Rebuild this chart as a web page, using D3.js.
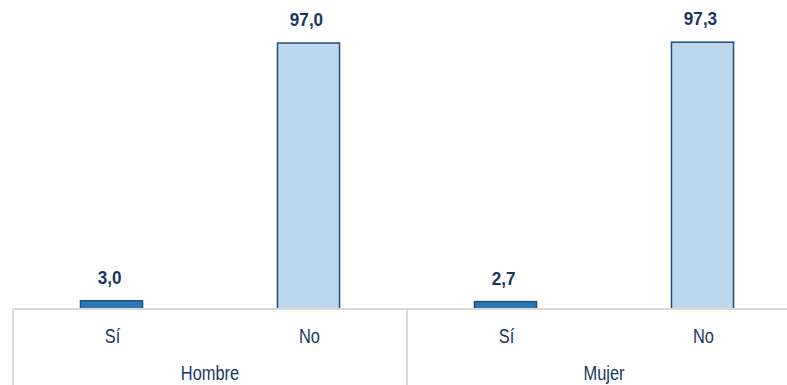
<!DOCTYPE html>
<html><head><meta charset="utf-8">
<script src="https://cdn.jsdelivr.net/npm/d3@7"></script>
<style>body{margin:0;background:#fff}svg{display:block}</style>
</head><body>
<svg id="c" width="787" height="385"></svg>
<script>
const groups = ["Hombre", "Mujer"];
const answers = ["Sí", "No"];
const values = [3.0, 97.0, 2.7, 97.3];
const valueLabels = ["3,0", "97,0", "2,7", "97,3"];

const svg = d3.select("#c");
const left = 13, right = 801, base = 309;
const keys = [];
groups.forEach(g => answers.forEach(a => keys.push(g + "|" + a)));
const x = d3.scaleBand().domain(keys).range([left, right]).paddingInner(0.685).paddingOuter(0.3425);
const xg = d3.scaleBand().domain(groups).range([left, right]);
const y = d3.scaleLinear().domain([0, 100]).range([base, 34.8]);
const fillC = {"Sí": "#2E75B6", "No": "#BDD7EE"};
const textC = "#17375E";

const data = keys.map((k, i) => ({k, a: k.split("|")[1], v: values[i], lab: valueLabels[i]}));

svg.selectAll("rect.bar").data(data).join("rect")
  .attr("x", d => x(d.k)).attr("width", x.bandwidth())
  .attr("y", d => y(d.v)).attr("height", d => base - y(d.v))
  .attr("fill", d => fillC[d.a]).attr("stroke", "#1F4E79").attr("stroke-width", 1.5);

svg.selectAll("text.val").data(data).join("text")
  .attr("transform", d => `translate(${x(d.k) + x.bandwidth()/2 - 2},${y(d.v) - 17}) scale(0.9,1)`)
  .attr("text-anchor", "middle").attr("font-family", "Liberation Sans, Arial, sans-serif")
  .attr("font-weight", "bold").attr("font-size", 19).attr("fill", textC).text(d => d.lab);

// axis lines
const g = svg.append("g").attr("stroke", "#D9D9D9").attr("stroke-width", 2);
g.append("line").attr("x1", left).attr("x2", 787).attr("y1", base).attr("y2", base);
groups.forEach(gr => {
  g.append("line").attr("x1", xg(gr)).attr("x2", xg(gr)).attr("y1", base).attr("y2", 385);
});

svg.selectAll("text.cat").data(data).join("text")
  .attr("transform", d => `translate(${x(d.k) + x.bandwidth()/2 + 1},342.5) scale(0.82,1)`)
  .attr("text-anchor", "middle").attr("font-family", "Liberation Sans, Arial, sans-serif")
  .attr("font-size", 20).attr("fill", textC).text(d => d.a);

svg.selectAll("text.grp").data(groups).join("text")
  .attr("transform", d => `translate(${xg(d) + xg.bandwidth()/2},380) scale(0.82,1)`)
  .attr("text-anchor", "middle").attr("font-family", "Liberation Sans, Arial, sans-serif")
  .attr("font-size", 20).attr("fill", textC).text(d => d);
</script>
</body></html>
